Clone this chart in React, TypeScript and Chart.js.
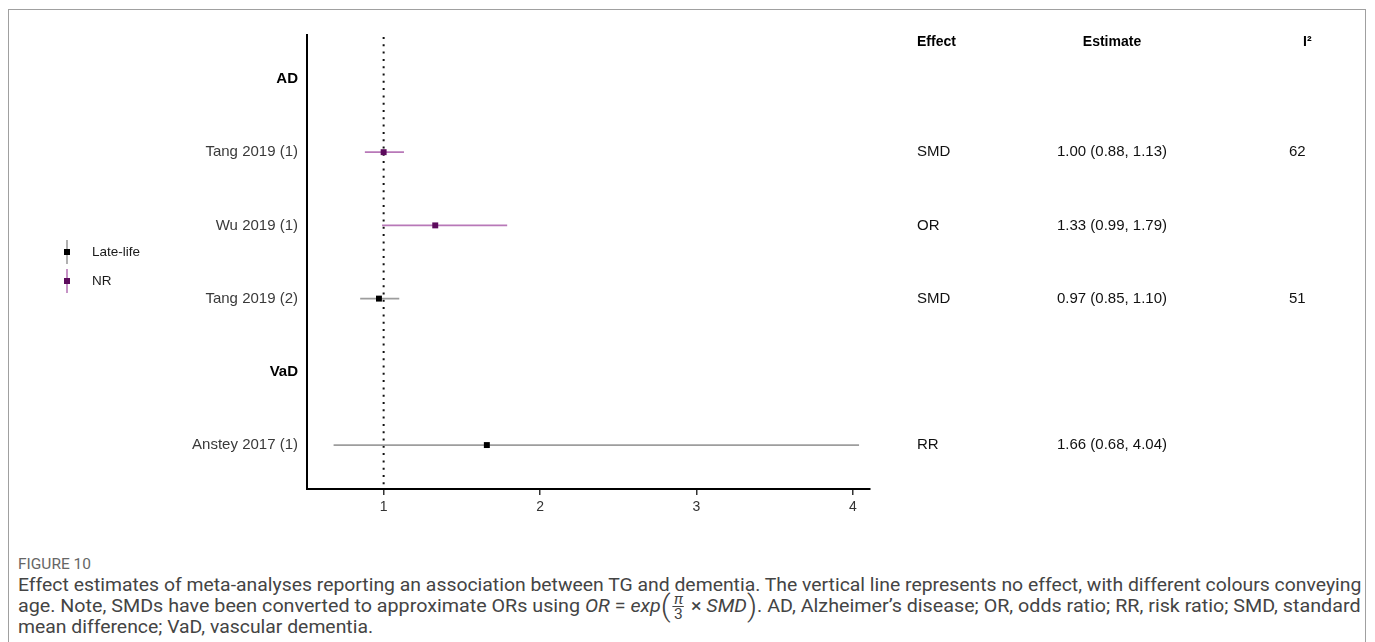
import React, { useEffect, useRef } from 'react';
import { Chart, registerables } from 'chart.js';

Chart.register(...registerables);

// ---- data ----
const rowLabels = ['AD', 'Tang 2019 (1)', 'Wu 2019 (1)', 'Tang 2019 (2)', 'VaD', 'Anstey 2017 (1)'];
const groupHeaders = ['AD', 'VaD'];
const studies = ['Tang 2019 (1)', 'Wu 2019 (1)', 'Tang 2019 (2)', 'Anstey 2017 (1)'];
const estimates = [1.0, 1.33, 0.97, 1.66];
const lowerCI = [0.88, 0.99, 0.85, 0.68];
const upperCI = [1.13, 1.79, 1.1, 4.04];
const ageGroup = ['NR', 'NR', 'Late-life', 'Late-life'];
const effectType = ['SMD', 'OR', 'SMD', 'RR'];
const i2Values = ['62', '', '51', ''];
const xTicks = [1, 2, 3, 4];
const legendGroups = ['Late-life', 'NR'];
const tableHeaders = ['Effect', 'Estimate', 'I²'];

const FONT = '"Liberation Sans", Arial, Helvetica, sans-serif';
const groupColors: Record<string, { point: string; line: string }> = {
  'Late-life': { point: '#000000', line: '#9d9d9d' },
  NR: { point: '#5c0b5c', line: '#b878b8' },
};

const fmt = (v: number) => v.toFixed(2);

const overlayPlugin = {
  id: 'forestOverlay',
  beforeDatasetsDraw(chart: any) {
    const { ctx, chartArea, scales } = chart;
    const x = scales.x.getPixelForValue(1);
    ctx.save();
    ctx.strokeStyle = '#111';
    ctx.lineWidth = 2;
    ctx.setLineDash([2, 5.3]);
    ctx.beginPath();
    ctx.moveTo(x, chartArea.top + 2);
    ctx.lineTo(x, chartArea.bottom);
    ctx.stroke();
    ctx.restore();
  },
  afterDraw(chart: any) {
    const { ctx, chartArea, scales } = chart;
    ctx.save();
    // legend
    const mid = (chartArea.top + chartArea.bottom) / 2;
    legendGroups.forEach((g, i) => {
      const y = mid - 10 + i * 29;
      const gx = 58;
      ctx.strokeStyle = groupColors[g].line;
      ctx.lineWidth = 1.6;
      ctx.beginPath();
      ctx.moveTo(gx, y - 12);
      ctx.lineTo(gx, y + 12);
      ctx.stroke();
      ctx.fillStyle = groupColors[g].point;
      ctx.fillRect(gx - 3, y - 3, 6, 6);
      ctx.fillStyle = '#1a1a1a';
      ctx.font = `13.5px ${FONT}`;
      ctx.textBaseline = 'middle';
      ctx.textAlign = 'left';
      ctx.fillText(g, 83, y);
    });
    // table
    const r = chartArea.right;
    const hy = chartArea.top + 7;
    ctx.fillStyle = '#000';
    ctx.font = `bold 14px ${FONT}`;
    ctx.textBaseline = 'middle';
    ctx.textAlign = 'left';
    ctx.fillText(tableHeaders[0], r + 47, hy);
    ctx.textAlign = 'center';
    ctx.fillText(tableHeaders[1], r + 242, hy);
    ctx.textAlign = 'left';
    ctx.fillText(tableHeaders[2], r + 433, hy);
    ctx.font = `15px ${FONT}`;
    ctx.fillStyle = '#111';
    studies.forEach((s, i) => {
      const y = scales.y.getPixelForValue(rowLabels.indexOf(s));
      ctx.textAlign = 'left';
      ctx.fillText(effectType[i], r + 47, y);
      ctx.textAlign = 'center';
      ctx.fillText(`${fmt(estimates[i])} (${fmt(lowerCI[i])}, ${fmt(upperCI[i])})`, r + 242, y);
      ctx.textAlign = 'left';
      if (i2Values[i]) ctx.fillText(i2Values[i], r + 419, y);
    });
    ctx.restore();
  },
};

function ForestChart() {
  const ref = useRef<HTMLCanvasElement>(null);
  useEffect(() => {
    if (!ref.current) return;
    const ciSets = studies.map((s, i) => ({
      label: s,
      data: [
        { x: lowerCI[i], y: rowLabels.indexOf(s) },
        { x: upperCI[i], y: rowLabels.indexOf(s) },
      ],
      showLine: true,
      borderColor: groupColors[ageGroup[i]].line,
      borderWidth: 1.7,
      pointRadius: 0,
      fill: false,
      order: 2,
    }));
    const pointSets = legendGroups.map((g) => ({
      label: g,
      data: studies
        .map((s, i) => ({ x: estimates[i], y: rowLabels.indexOf(s), g: ageGroup[i] }))
        .filter((p) => p.g === g),
      pointStyle: 'rect',
      pointRadius: 4.2,
      backgroundColor: groupColors[g].point,
      borderColor: groupColors[g].point,
      borderWidth: 0,
      order: 1,
    }));
    const chart = new Chart(ref.current, {
      type: 'scatter',
      data: { datasets: [...ciSets, ...pointSets] as any },
      options: {
        animation: false,
        responsive: false,
        events: [],
        layout: { padding: { top: 25, bottom: 21, left: 0, right: 495 } },
        plugins: { legend: { display: false }, tooltip: { enabled: false } },
        scales: {
          x: {
            type: 'linear',
            min: 0.51,
            max: 4.11,
            afterBuildTicks: (s: any) => {
              s.ticks = xTicks.map((v) => ({ value: v }));
            },
            afterFit: (s: any) => {
              s.height = 40;
            },
            ticks: {
              font: { family: FONT, size: 14 },
              color: '#333',
              padding: 4,
              callback: (v: any) => String(v),
            },
            grid: {
              display: true,
              drawOnChartArea: false,
              drawTicks: true,
              tickLength: 6,
              color: '#333',
              lineWidth: 1.5,
            },
            border: { display: true, color: '#000', width: 2 },
          },
          y: {
            type: 'linear',
            reverse: true,
            min: -0.6,
            max: 5.6,
            afterBuildTicks: (s: any) => {
              s.ticks = rowLabels.map((_, i) => ({ value: i }));
            },
            afterFit: (s: any) => {
              s.width = 298;
            },
            ticks: {
              autoSkip: false,
              padding: 9,
              callback: (v: any) => rowLabels[v],
              font: (ctx: any) => ({
                family: FONT,
                size: 15,
                weight: groupHeaders.includes(rowLabels[ctx.tick?.value]) ? 'bold' : 'normal',
              }),
              color: (ctx: any) =>
                groupHeaders.includes(rowLabels[ctx.tick?.value]) ? '#000' : '#3a3a3a',
            },
            grid: { display: true, drawOnChartArea: false, drawTicks: false },
            border: { display: true, color: '#000', width: 2 },
          },
        },
      } as any,
      plugins: [overlayPlugin],
    });
    return () => chart.destroy();
  }, []);
  return <canvas ref={ref} width={1356} height={540} style={{ display: 'block', width: 1356, height: 540 }} />;
}

const CAP_FONT = 'Roboto, "Noto Sans", "Liberation Sans", sans-serif';

function Caption() {
  const l1 = useRef<HTMLDivElement>(null);
  const l2 = useRef<HTMLDivElement>(null);
  const l3 = useRef<HTMLDivElement>(null);
  useEffect(() => {
    const fit = () => {
      if (!l1.current || !l2.current || !l3.current) return;
      const target = 1343;
      const s1 = target / l1.current.offsetWidth;
      const s2 = target / l2.current.offsetWidth;
      l1.current.style.transform = `scaleX(${s1})`;
      l3.current.style.transform = `scaleX(${s1})`;
      l2.current.style.transform = `scaleX(${s2})`;
    };
    fit();
    (document as any).fonts?.ready?.then(fit);
  }, []);
  const lineStyle: React.CSSProperties = {
    position: 'absolute',
    left: 9,
    height: 20,
    whiteSpace: 'nowrap',
    transformOrigin: 'left center',
    fontFamily: CAP_FONT,
    fontSize: 19,
    lineHeight: '20px',
    color: '#444',
    display: 'inline-block',
  };
  const paren: React.CSSProperties = {
    fontSize: 30,
    lineHeight: '20px',
    fontWeight: 300,
    verticalAlign: '-4px',
  };
  return (
    <>
      <div
        style={{
          position: 'absolute',
          left: 9,
          top: 545,
          fontFamily: CAP_FONT,
          fontSize: 15.5,
          lineHeight: '18px',
          color: '#666',
        }}
      >
        FIGURE 10
      </div>
      <div ref={l1} style={{ ...lineStyle, top: 565 }}>
        Effect estimates of meta-analyses reporting an association between TG and dementia. The vertical line represents no effect, with different colours conveying
      </div>
      <div ref={l2} style={{ ...lineStyle, top: 586 }}>
        age. Note, SMDs have been converted to approximate ORs using{' '}
        <i>OR</i> = <i>exp</i>
        <span style={paren}>(</span>
        <span
          style={{
            display: 'inline-block',
            verticalAlign: 'middle',
            textAlign: 'center',
            fontSize: 15,
            lineHeight: '14px',
            margin: '-4px 2px',
          }}
        >
          <span style={{ display: 'block', borderBottom: '1px solid #444', padding: '0 1px' }}>
            <i>π</i>
          </span>
          <span style={{ display: 'block' }}>3</span>
        </span>{' '}
        × <i>SMD</i>
        <span style={paren}>)</span>. AD, Alzheimer’s disease; OR, odds ratio; RR, risk ratio; SMD, standard
      </div>
      <div ref={l3} style={{ ...lineStyle, top: 607 }}>
        mean difference; VaD, vascular dementia.
      </div>
    </>
  );
}

export default function App() {
  return (
    <div
      style={{
        position: 'fixed',
        left: 8,
        top: 9,
        width: 1356,
        height: 640,
        border: '1px solid #a0a0a0',
        borderBottom: 'none',
        background: '#fff',
        overflow: 'hidden',
      }}
    >
      <ForestChart />
      <Caption />
    </div>
  );
}
